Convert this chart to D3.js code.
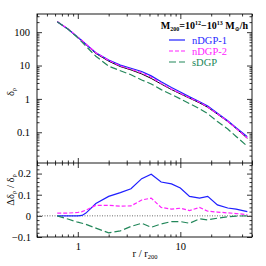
<!DOCTYPE html>
<html>
<head>
<meta charset="utf-8">
<script src="https://cdn.jsdelivr.net/npm/d3@7"></script>
<style>
body { margin: 0; background: #fff; }
text { font-family: "Liberation Serif", "DejaVu Serif", serif; fill: #000; }
</style>
</head>
<body>
<div class="container"></div>
<script>
const WIDTH = 266;
const HEIGHT = 266;
const LEFT = 37, RIGHT = 252, TOP = 14, MID = 163, BOTTOM = 237;

// r / r200 bins
var radii = [0.63, 0.8, 1.0, 1.1, 1.2, 1.5, 2.0, 2.6, 3.3, 4.2, 5.2, 6.5, 8.2, 10, 12.3, 15.4, 18.5, 23, 29, 35, 45];

// top panel: delta_rho
var deltaGR   = [205, 125, 70, 55, 43, 23, 13.5, 9.3, 7.4, 5.6, 4.1, 2.8, 1.9, 1.42, 1.05, 0.76, 0.56, 0.35, 0.21, 0.13, 0.066];
var deltaN1   = [205, 125, 70, 55, 43.5, 24.3, 14.7, 10.3, 8.3, 6.6, 4.9, 3.25, 2.19, 1.6, 1.15, 0.82, 0.61, 0.37, 0.22, 0.136, 0.074];
var deltaN2   = [207, 127, 71, 56, 44, 24.2, 14.2, 9.7, 7.75, 6.0, 4.45, 2.9, 1.96, 1.47, 1.08, 0.79, 0.57, 0.36, 0.213, 0.131, 0.067];
var deltaS    = [204, 124, 68, 50, 38, 19, 9.6, 7.0, 5.3, 3.7, 2.8, 1.9, 1.35, 1.0, 0.72, 0.51, 0.36, 0.21, 0.125, 0.075, 0.038];

// bottom panel: relative difference
var ratioN1 = [0, 0, 0, 0.002, 0.013, 0.058, 0.092, 0.11, 0.128, 0.176, 0.197, 0.16, 0.151, 0.132, 0.092, 0.084, 0.092, 0.052, 0.037, 0.032, 0.02];
var ratioN2 = [0.013, 0.013, 0.016, 0.02, 0.027, 0.05, 0.05, 0.046, 0.047, 0.075, 0.084, 0.04, 0.032, 0.036, 0.025, 0.04, 0.022, 0.018, 0.014, 0.011, 0.006];
var ratioS  = [0, -0.015, -0.03, -0.035, -0.04, -0.058, -0.08, -0.071, -0.05, -0.035, -0.054, -0.038, -0.027, -0.027, -0.035, -0.014, -0.019, -0.011, -0.004, -0.001, 0];

var xTicks = [1, 10];
var yTopTicks = [0.1, 1, 10, 100];
var yBotTicks = [-0.1, 0, 0.1, 0.2];
var yBotMinor = [-0.08, -0.06, -0.04, -0.02, 0.02, 0.04, 0.06, 0.08, 0.12, 0.14, 0.16, 0.18, 0.22, 0.24];

var models = [
    {name: 'nDGP-1', color: '#1f1fff', dash: null, top: deltaN1, bot: ratioN1},
    {name: 'nDGP-2', color: '#ff22ff', dash: '4,2', top: deltaN2, bot: ratioN2},
    {name: 'sDGP', color: '#23875a', dash: '7,3', top: deltaS, bot: ratioS}
];

var translate = function(x, y) {
    return `translate(${x},${y})`;
};

var addAxis = function(svg, axis, x, y) {
    svg.append('g')
        .attr('transform', translate(x, y))
        .call(axis)
        .call(g => g.select('.domain').remove())
        .call(g => g.selectAll('line').attr('stroke', '#000').attr('stroke-width', 0.8))
        .call(g => g.selectAll('text').attr('font-size', 10.5)
            .style('font-family', '"Liberation Serif", serif'));
};

var fillLayout = function() {
    var svg = d3.select('.container').append('svg')
        .attr('width', WIDTH)
        .attr('height', HEIGHT);

    let xScale = d3.scaleLog().domain([0.4, 50]).range([LEFT, RIGHT]);
    let yTop = d3.scaleLog().domain([0.012, 350]).range([MID, TOP]);
    let yBot = d3.scaleLinear().domain([-0.1, 0.25]).range([BOTTOM, MID]);

    let xMinor = xScale.ticks().filter(d => xTicks.indexOf(d) < 0);
    let yTopMinor = yTop.ticks().filter(d => yTopTicks.indexOf(d) < 0);

    // x ticks on every horizontal edge, pointing inward
    [[TOP, 1], [MID, -1], [MID, 1], [BOTTOM, -1]].forEach(function(e) {
        let mk = e[1] > 0 ? d3.axisTop : d3.axisBottom;
        let label = e[0] === BOTTOM;
        addAxis(svg, mk(xScale).tickValues(xMinor).tickSize(-2.5).tickFormat(''), 0, e[0]);
        addAxis(svg, mk(xScale).tickValues(xTicks).tickSize(-5).tickPadding(6)
            .tickFormat(label ? (d => d) : ''), 0, e[0]);
    });
    // top panel y axes
    addAxis(svg, d3.axisLeft(yTop).tickValues(yTopMinor).tickSize(-2.5).tickFormat(''), LEFT, 0);
    addAxis(svg, d3.axisLeft(yTop).tickValues(yTopTicks).tickSize(-5).tickPadding(7).tickFormat(d => d), LEFT, 0);
    addAxis(svg, d3.axisRight(yTop).tickValues(yTopMinor).tickSize(-2.5).tickFormat(''), RIGHT, 0);
    addAxis(svg, d3.axisRight(yTop).tickValues(yTopTicks).tickSize(-5).tickFormat(''), RIGHT, 0);
    // bottom panel y axes
    addAxis(svg, d3.axisLeft(yBot).tickValues(yBotMinor).tickSize(-2.5).tickFormat(''), LEFT, 0);
    addAxis(svg, d3.axisLeft(yBot).tickValues(yBotTicks).tickSize(-5).tickPadding(6)
        .tickFormat(d => d === 0 ? '0' : (d < 0 ? '\u2212' + Math.abs(d) : d)), LEFT, 0);
    addAxis(svg, d3.axisRight(yBot).tickValues(yBotMinor).tickSize(-2.5).tickFormat(''), RIGHT, 0);
    addAxis(svg, d3.axisRight(yBot).tickValues(yBotTicks).tickSize(-5).tickFormat(''), RIGHT, 0);

    // clip paths
    svg.append('clipPath').attr('id', 'clipTop').append('rect')
        .attr('x', LEFT).attr('y', TOP).attr('width', RIGHT - LEFT).attr('height', MID - TOP);
    svg.append('clipPath').attr('id', 'clipBot').append('rect')
        .attr('x', LEFT).attr('y', MID).attr('width', RIGHT - LEFT).attr('height', BOTTOM - MID);

    // zero line
    svg.append('line')
        .attr('x1', LEFT).attr('x2', RIGHT)
        .attr('y1', yBot(0)).attr('y2', yBot(0))
        .attr('stroke', '#444').attr('stroke-width', 0.8)
        .attr('stroke-dasharray', '1,1.5');

    var topLine = d3.line().x((d, i) => xScale(radii[i])).y(d => yTop(d));
    var botLine = d3.line().x((d, i) => xScale(radii[i])).y(d => yBot(d));

    var gTop = svg.append('g').attr('clip-path', 'url(#clipTop)');
    var gBot = svg.append('g').attr('clip-path', 'url(#clipBot)');

    gTop.append('path')
        .attr('d', topLine(deltaGR))
        .attr('fill', 'none').attr('stroke', '#000').attr('stroke-width', 1);

    models.forEach(function(m) {
        gTop.append('path')
            .attr('d', topLine(m.top))
            .attr('fill', 'none').attr('stroke', m.color).attr('stroke-width', 1.2)
            .attr('stroke-dasharray', m.dash);
        gBot.append('path')
            .attr('d', botLine(m.bot))
            .attr('fill', 'none').attr('stroke', m.color).attr('stroke-width', 1.2)
            .attr('stroke-dasharray', m.dash);
    });

    // frames
    svg.append('rect')
        .attr('x', LEFT).attr('y', TOP).attr('width', RIGHT - LEFT).attr('height', BOTTOM - TOP)
        .attr('fill', 'none').attr('stroke', '#000').attr('stroke-width', 0.9);
    svg.append('line')
        .attr('x1', LEFT).attr('x2', RIGHT).attr('y1', MID).attr('y2', MID)
        .attr('stroke', '#000').attr('stroke-width', 0.9);

    // legend
    var title = svg.append('text')
        .attr('x', 248).attr('y', 29)
        .attr('text-anchor', 'end')
        .attr('font-size', 10)
        .attr('font-weight', 'bold');
    title.append('tspan').text('M');
    title.append('tspan').attr('font-size', 6).attr('dy', 2).text('200');
    title.append('tspan').attr('dy', -2).text('=10');
    title.append('tspan').attr('font-size', 6).attr('dy', -4).text('12');
    title.append('tspan').attr('dy', 4).text('\u221210');
    title.append('tspan').attr('font-size', 6).attr('dy', -4).text('13');
    title.append('tspan').attr('dy', 4).text(' M');
    title.append('tspan').attr('font-size', 6).attr('dy', 2).text('\u2299');
    title.append('tspan').attr('dy', -2).text('/h');

    models.forEach(function(m, i) {
        let y = 40 + i * 11;
        svg.append('line')
            .attr('x1', 169).attr('x2', 185).attr('y1', y).attr('y2', y)
            .attr('stroke', m.color).attr('stroke-width', 1.2)
            .attr('stroke-dasharray', m.dash);
        svg.append('text')
            .attr('x', 192).attr('y', y + 3.5)
            .attr('font-size', 10.5)
            .style('fill', m.color)
            .text(m.name);
    });

    // axis labels
    var xl = svg.append('text')
        .attr('x', 145).attr('y', 257)
        .attr('text-anchor', 'middle')
        .attr('font-size', 10.5);
    xl.append('tspan').text('r / r');
    xl.append('tspan').attr('font-size', 6.5).attr('dy', 2).text('200');

    var yl = svg.append('text')
        .attr('transform', translate(14, 92) + ' rotate(-90)')
        .attr('text-anchor', 'middle')
        .attr('font-size', 10.5);
    yl.append('tspan').text('\u03b4');
    yl.append('tspan').attr('font-size', 6.5).attr('dy', 2).text('\u03c1');

    var yl2 = svg.append('text')
        .attr('transform', translate(14, 190) + ' rotate(-90)')
        .attr('text-anchor', 'middle')
        .attr('font-size', 10.5);
    yl2.append('tspan').text('\u0394\u03b4');
    yl2.append('tspan').attr('font-size', 6.5).attr('dy', 2).text('\u03c1');
    yl2.append('tspan').attr('dy', -2).text(' / \u03b4');
    yl2.append('tspan').attr('font-size', 6.5).attr('dy', 2).text('\u03c1');
};
window.onload = fillLayout;
</script>
</body>
</html>
